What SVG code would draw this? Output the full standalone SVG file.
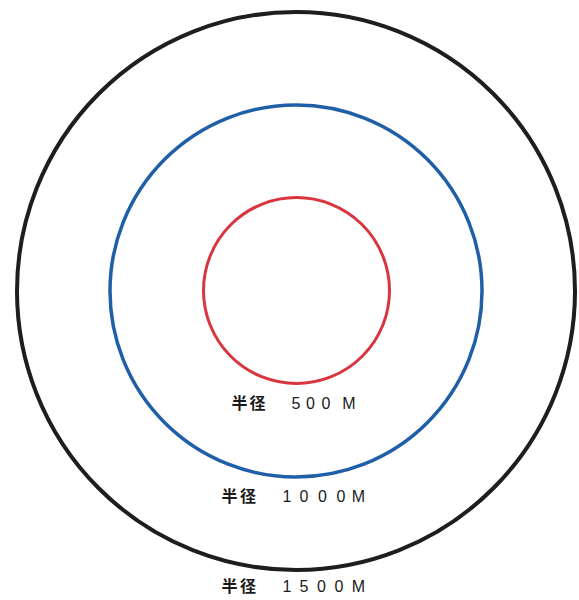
<svg xmlns="http://www.w3.org/2000/svg" width="579" height="600" viewBox="0 0 579 600">
<style>
.ring{fill:none}
.lbl{font-family:"Liberation Sans","Noto Sans CJK JP",sans-serif;font-size:16px;fill:#1a1a1a;text-anchor:middle}
.cjk{font-family:"Noto Sans CJK JP",sans-serif;font-weight:bold}
</style>
<rect width="579" height="600" fill="#fff"/>
<g id="outer">
<circle class="ring" cx="296" cy="291" r="279" stroke="#1e1e1e" stroke-width="4"/>
<text class="lbl" y="592"><tspan class="cjk" x="229.5">半</tspan><tspan class="cjk" x="248">径</tspan><tspan x="287">1</tspan><tspan x="304">5</tspan><tspan x="321.5">0</tspan><tspan x="339">0</tspan><tspan x="358.5">M</tspan></text>
</g>
<g id="middle">
<circle class="ring" cx="296" cy="291" r="186" stroke="#1f5fa8" stroke-width="3.5"/>
<text class="lbl" y="502"><tspan class="cjk" x="229.5">半</tspan><tspan class="cjk" x="248">径</tspan><tspan x="287">1</tspan><tspan x="304">0</tspan><tspan x="322.5">0</tspan><tspan x="341">0</tspan><tspan x="358.5">M</tspan></text>
</g>
<g id="inner">
<circle class="ring" cx="296.5" cy="290.5" r="93" stroke="#d8353f" stroke-width="3"/>
<text class="lbl" y="409"><tspan class="cjk" x="239.5">半</tspan><tspan class="cjk" x="257.5">径</tspan><tspan x="296">5</tspan><tspan x="310.5">0</tspan><tspan x="326">0</tspan><tspan x="349">M</tspan></text>
</g>
<g id="connectors"/>
</svg>
